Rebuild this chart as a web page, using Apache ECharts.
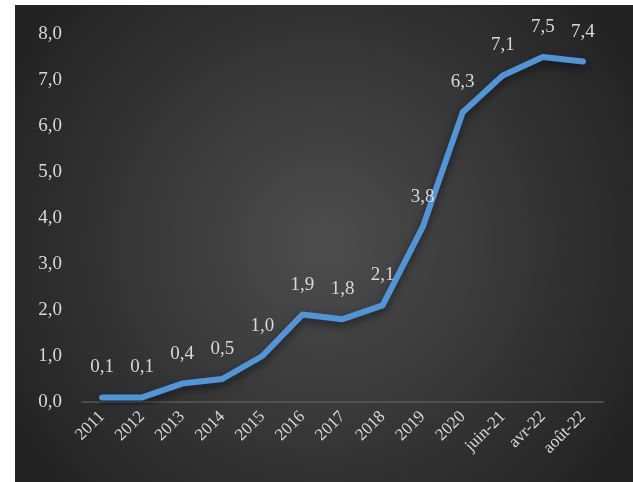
<!DOCTYPE html>
<html>
<head>
<meta charset="utf-8">
<script src="https://cdn.jsdelivr.net/npm/echarts@6/dist/echarts.min.js"></script>
<style>
  html, body { margin: 0; padding: 0; background: #ffffff; }
  #main { position: absolute; left: 15px; top: 5px; width: 618px; height: 477px; }
</style>
</head>
<body>
<div id="main"></div>
<script>
var categories = ['2011', '2012', '2013', '2014', '2015', '2016', '2017', '2018', '2019', '2020', 'juin-21', 'avr-22', 'août-22'];
var values = [0.1, 0.1, 0.4, 0.5, 1.0, 1.9, 1.8, 2.1, 3.8, 6.3, 7.1, 7.5, 7.4];

var chartDom = document.getElementById('main');
var myChart = echarts.init(chartDom);

function fr(v) {
  return Number(v).toFixed(1).replace('.', ',');
}

var option = {
  backgroundColor: {
    type: 'radial', x: 0.5, y: 0.5, r: 0.75,
    colorStops: [
      { offset: 0, color: '#4d4d4d' },
      { offset: 1, color: '#232323' }
    ]
  },
  textStyle: { fontFamily: 'Liberation Serif' },
  grid: { left: 67, right: 30, top: 29, bottom: 80 },
  xAxis: {
    type: 'category',
    data: categories,
    boundaryGap: true,
    axisLine: { lineStyle: { color: '#595959', width: 1.5 } },
    axisTick: { show: false },
    axisLabel: {
      rotate: 45,
      margin: 12,
      color: '#d9d9d9',
      fontSize: 17,
      fontFamily: 'Liberation Serif'
    }
  },
  yAxis: {
    type: 'value',
    min: 0,
    max: 8,
    interval: 1,
    axisLine: { show: false },
    axisTick: { show: false },
    splitLine: { show: false },
    axisLabel: {
      margin: 20,
      color: '#d9d9d9',
      fontSize: 19,
      fontFamily: 'Liberation Serif',
      formatter: function (v) { return fr(v); }
    }
  },
  series: [
    {
      type: 'line',
      data: values,
      symbol: 'circle',
      symbolSize: 1,
      showSymbol: true,
      itemStyle: { color: 'rgba(0,0,0,0)' },
      lineStyle: {
        color: '#5195d9',
        width: 6,
        cap: 'round',
        join: 'round',
        shadowColor: 'rgba(0,0,0,0.55)',
        shadowBlur: 8,
        shadowOffsetY: 4
      },
      label: {
        show: true,
        position: 'top',
        distance: 20,
        color: '#d9d9d9',
        fontSize: 19,
        fontFamily: 'Liberation Serif',
        formatter: function (p) { return fr(p.value); }
      }
    }
  ]
};

myChart.setOption(option);
</script>
</body>
</html>
